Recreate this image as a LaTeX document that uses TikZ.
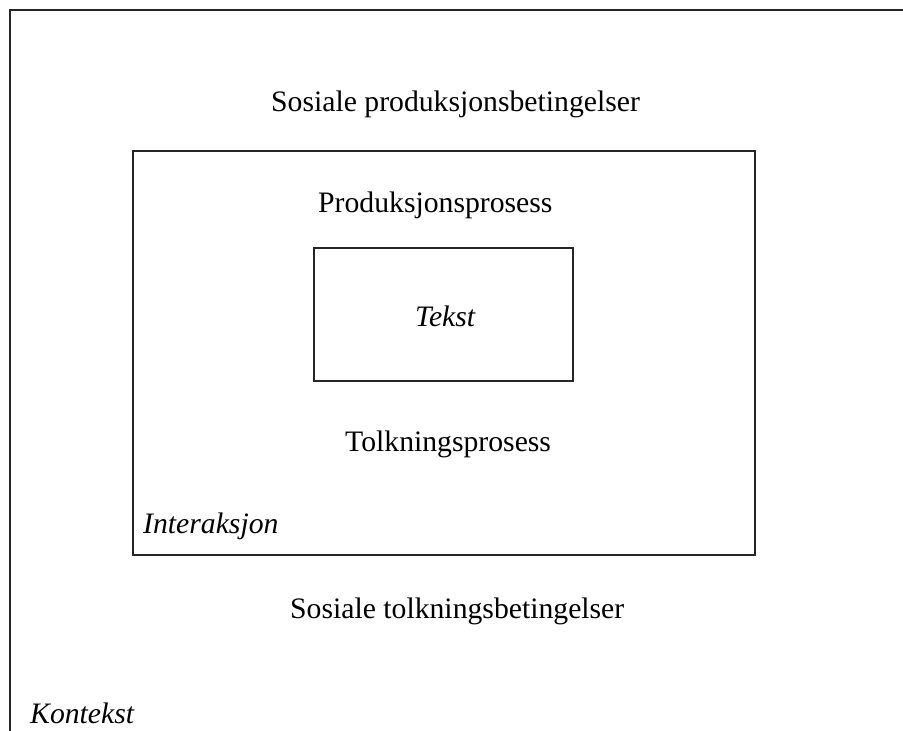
\documentclass[tikz,border=0pt]{standalone}
\usepackage{fontspec}
\setmainfont{Liberation Serif}
\begin{document}
\begin{tikzpicture}[x=1pt,y=-1pt,
  frame/.style={draw=black!85, line width=1.1pt},
  boxstyle/.style={draw=black!85, line width=1.1pt, inner sep=0pt},
  lbl/.style={anchor=base west, inner sep=0pt, font=\fontsize{29.7}{34}\selectfont},
  ilbl/.style={lbl, font=\fontsize{29.7}{34}\selectfont\itshape}]
\useasboundingbox (0,0) rectangle (903,731);
\coordinate (kbot) at (10,740);
\coordinate (kcorner) at (10,10);
\coordinate (kright) at (910,10);
\draw[frame] (kbot) -- (kcorner) -- (kright);
\node[boxstyle, minimum width=622pt, minimum height=404pt] (interaksjon) at (444,353) {};
\node[boxstyle, minimum width=259pt, minimum height=133pt] (tekstbox) at (443.5,314.5) {};
\node[lbl] (spb) at (271,111) {Sosiale produksjonsbetingelser};
\node[lbl] (pp) at (318,212) {Produksjonsprosess};
\node[ilbl] (tekst) at (415,326) {Tekst};
\node[lbl] (tp) at (345,451) {Tolkningsprosess};
\node[ilbl] (inter) at (143,533) {Interaksjon};
\node[lbl] (stb) at (290,618) {Sosiale tolkningsbetingelser};
\node[ilbl] (kontekst) at (30,723) {Kontekst};
\end{tikzpicture}
\end{document}
